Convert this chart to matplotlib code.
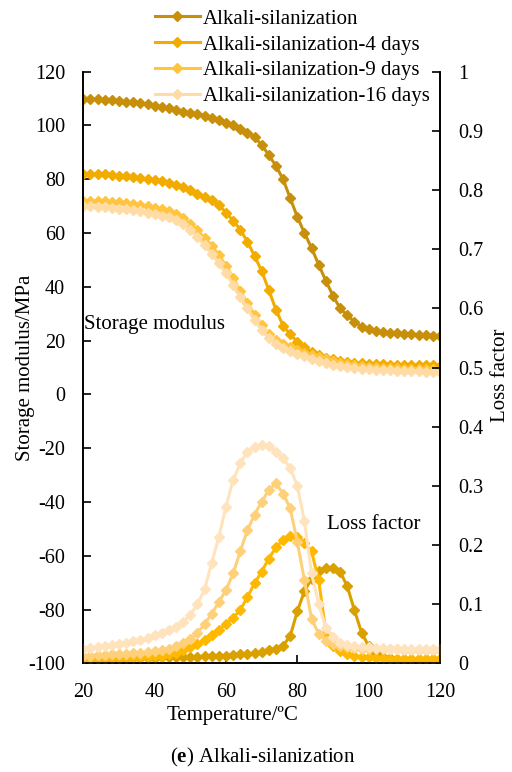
import numpy as np
import matplotlib
matplotlib.use("Agg")
import matplotlib.pyplot as plt

plt.rcParams['font.family'] = ['Liberation Serif', 'DejaVu Serif']
plt.rcParams['axes.unicode_minus'] = False
plt.rcParams['mathtext.fontset'] = 'custom'
plt.rcParams['mathtext.rm'] = 'Liberation Serif'
plt.rcParams['mathtext.bf'] = 'Liberation Serif:bold'

# temperature grid, every 2 ºC
temperature = list(range(20, 122, 2))

series_names = ["Alkali-silanization", "Alkali-silanization-4 days",
                "Alkali-silanization-9 days", "Alkali-silanization-16 days"]

# storage modulus (MPa)
storage_0d = [110, 109.9, 109.7, 109.5, 109.3, 109.1, 108.9, 108.6, 108.3, 107.9,
              107.4, 106.9, 106.4, 105.8, 105.2, 104.8, 104.4, 103.6, 102.8, 102.0,
              101.0, 100.0, 98.8, 97.3, 95.6, 92.8, 89.0, 85.0, 80.0, 73.0,
              66.0, 60.0, 54.4, 48.2, 42.2, 36.7, 32.0, 29.4, 27.0, 25.2,
              24.2, 23.6, 23.2, 22.9, 22.7, 22.5, 22.3, 22.1, 22.0, 21.9, 21.8]
storage_4d = [82, 82, 81.9, 81.8, 81.6, 81.4, 81.1, 80.8, 80.5, 80.1,
              79.7, 79.2, 78.6, 77.9, 77.0, 75.9, 74.7, 73.5, 72.2, 70.5,
              67.6, 64.6, 61.3, 56.8, 51.5, 45.9, 38.8, 31.5, 25.6, 22.3,
              19.6, 17.5, 15.8, 14.6, 13.7, 13.0, 12.5, 12.1, 11.8, 11.6,
              11.4, 11.3, 11.2, 11.1, 11.0, 11.0, 10.9, 10.9, 10.8, 10.8, 10.7]
storage_9d = [72, 72, 71.9, 71.8, 71.6, 71.4, 71.1, 70.7, 70.3, 69.9,
              69.4, 68.8, 68.1, 67.1, 65.6, 63.3, 61.0, 58.2, 55.3, 51.8,
              47.9, 43.4, 38.6, 34.1, 29.7, 25.8, 22.5, 20.2, 18.8, 17.6,
              16.5, 15.5, 14.6, 13.8, 13.0, 12.3, 11.8, 11.3, 10.9, 10.6,
              10.3, 10.1, 9.9, 9.8, 9.7, 9.6, 9.5, 9.4, 9.4, 9.3, 9.2]
storage_16d = [70, 70, 69.8, 69.6, 69.4, 69.1, 68.8, 68.5, 68.1, 67.6,
               67.1, 66.5, 65.8, 64.8, 63.3, 61.0, 58.5, 55.5, 52.3, 48.8,
               45.0, 40.8, 36.3, 32.0, 27.8, 24.0, 21.0, 18.8, 17.2, 16.1,
               15.1, 14.2, 13.3, 12.5, 11.8, 11.1, 10.6, 10.2, 9.8, 9.5,
               9.3, 9.1, 9.0, 8.9, 8.8, 8.7, 8.6, 8.6, 8.5, 8.5, 8.4]

# loss factor
loss_0d = [0.008, 0.008, 0.008, 0.008, 0.008, 0.008, 0.009, 0.009, 0.009, 0.009,
           0.009, 0.010, 0.010, 0.010, 0.010, 0.011, 0.011, 0.012, 0.012, 0.013,
           0.013, 0.014, 0.015, 0.016, 0.017, 0.019, 0.022, 0.025, 0.030, 0.046,
           0.088, 0.122, 0.143, 0.156, 0.161, 0.161, 0.155, 0.130, 0.090, 0.052,
           0.029, 0.017, 0.011, 0.009, 0.008, 0.008, 0.008, 0.007, 0.007, 0.007, 0.007]
loss_4d = [0.008, 0.008, 0.008, 0.009, 0.009, 0.009, 0.010, 0.010, 0.011, 0.011,
           0.012, 0.013, 0.015, 0.018, 0.022, 0.028, 0.033, 0.039, 0.048, 0.057,
           0.066, 0.077, 0.090, 0.112, 0.135, 0.155, 0.177, 0.196, 0.208, 0.215,
           0.213, 0.203, 0.189, 0.140, 0.052, 0.030, 0.021, 0.016, 0.013, 0.011,
           0.010, 0.009, 0.009, 0.008, 0.008, 0.008, 0.008, 0.007, 0.007, 0.007, 0.007]
loss_9d = [0.013, 0.013, 0.014, 0.014, 0.015, 0.015, 0.016, 0.017, 0.018, 0.019,
           0.020, 0.022, 0.025, 0.029, 0.034, 0.041, 0.052, 0.066, 0.084, 0.103,
           0.124, 0.152, 0.189, 0.225, 0.251, 0.273, 0.293, 0.304, 0.287, 0.262,
           0.205, 0.140, 0.075, 0.050, 0.038, 0.032, 0.029, 0.027, 0.026, 0.025,
           0.025, 0.024, 0.024, 0.024, 0.024, 0.023, 0.023, 0.023, 0.023, 0.023, 0.023]
loss_16d = [0.025, 0.026, 0.028, 0.029, 0.031, 0.033, 0.035, 0.037, 0.040, 0.043,
            0.047, 0.051, 0.056, 0.062, 0.070, 0.082, 0.100, 0.125, 0.170, 0.214,
            0.265, 0.310, 0.338, 0.358, 0.366, 0.369, 0.367, 0.358, 0.347, 0.330,
            0.300, 0.240, 0.152, 0.100, 0.060, 0.044, 0.035, 0.031, 0.029, 0.028,
            0.027, 0.026, 0.026, 0.025, 0.025, 0.025, 0.025, 0.024, 0.024, 0.024, 0.024]

storage = [storage_0d, storage_4d, storage_9d, storage_16d]
loss = [loss_0d, loss_4d, loss_9d, loss_16d]
storage_colors = ['#C8900A', '#F2AC00', '#FFC440', '#FFDCA5']
loss_colors = ['#D9A000', '#FFB800', '#FFD07A', '#FFE3BC']

fig = plt.figure(figsize=(5.12, 7.72), dpi=100)
ax = fig.add_axes([0.1627, 0.1408, 0.6967, 0.7663])
ax2 = ax.twinx()

fs = 15
tfs = 14.5
lines = []
for vals, c, name in zip(storage, storage_colors, series_names):
    ln, = ax.plot(temperature, vals, color=c, lw=2.2, marker='D', ms=5, label=name)
    lines.append(ln)
for vals, c in zip(loss, loss_colors):
    ax2.plot(temperature, vals, color=c, lw=2.2, marker='D', ms=5)

ax.set_xlim(20, 120)
ax.set_ylim(-100, 120)
ax2.set_ylim(0, 1)
ax.set_xticks(range(20, 121, 20))
ax.set_yticks(range(-100, 121, 20))
ax2.set_yticks([0, 0.1, 0.2, 0.3, 0.4, 0.5, 0.6, 0.7, 0.8, 0.9, 1])
ax2.set_yticklabels(['0', '0.1', '0.2', '0.3', '0.4', '0.5', '0.6', '0.7', '0.8', '0.9', '1'])

for a in (ax, ax2):
    a.spines['top'].set_visible(False)
    for s in a.spines.values():
        s.set_linewidth(1.2)
    a.tick_params(direction='in', length=6, width=1.2, labelsize=tfs, pad=13)
ax.tick_params(axis='x', pad=14)

ax.set_ylabel('Storage modulus/MPa', fontsize=fs)
ax.yaxis.set_label_coords(-0.135, 0.5)
ax2.set_ylabel('Loss factor', fontsize=fs)
ax2.yaxis.set_label_coords(1.142, 0.487)
ax.set_xlabel('Temperature/ºC', fontsize=fs)
ax.xaxis.set_label_coords(0.418, -0.073)

ax.text(20.2, 26, 'Storage modulus', fontsize=fs, va='center', ha='left')
ax.text(88.3, -48.4, 'Loss factor', fontsize=fs, va='center', ha='left')

fig.legend(handles=lines, loc='upper left', bbox_to_anchor=(0.2945, 0.9935),
           frameon=False, fontsize=fs, handlelength=2.15, handletextpad=0.15,
           labelspacing=0.3, borderpad=0.2, borderaxespad=0, numpoints=1)

fig.text(0.514, 0.019, r'($\mathbf{e}$) Alkali-silanization', fontsize=fs,
         ha='center', va='center')

fig.savefig('out.png', dpi=100)
